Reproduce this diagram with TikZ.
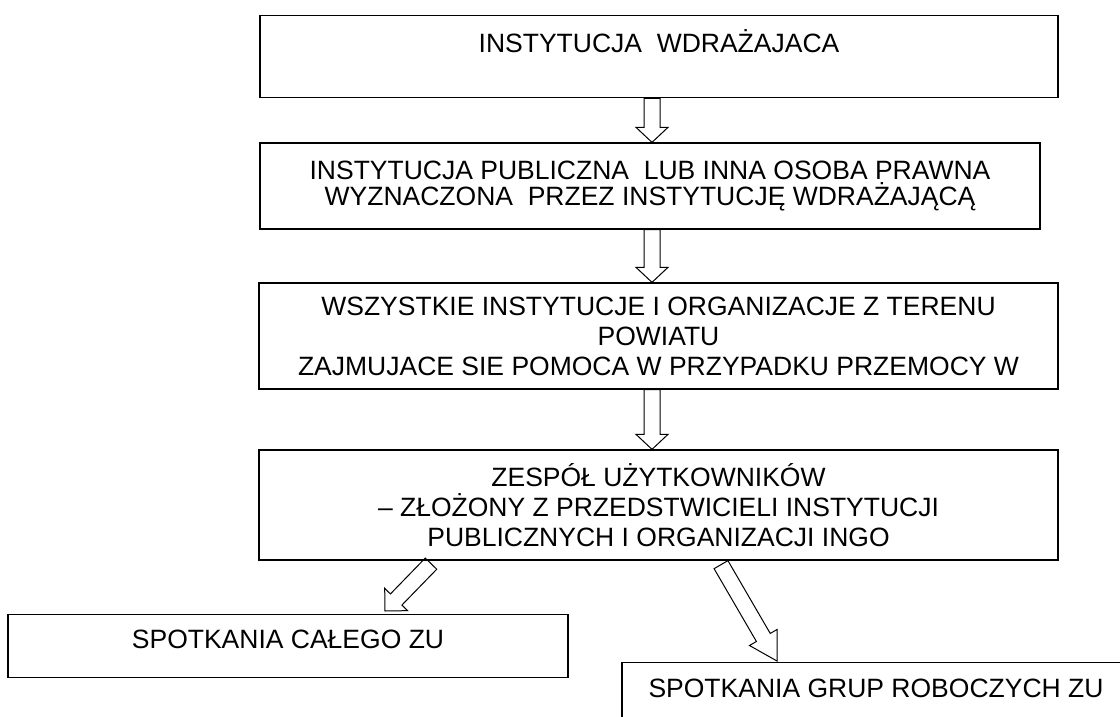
\documentclass[tikz,border=0pt]{standalone}
\usepackage{fontspec}
\setmainfont{Liberation Sans}
\usetikzlibrary{calc}
\newcommand{\fatarrow}[3][15]{%
  \draw[line width=1pt] let \p1=(#2), \p2=(#3), \n1={atan2(\y2-\y1,\x2-\x1)}, \n2={veclen(\x2-\x1,\y2-\y1)-#1} in
  ($(\p1)+(\n1+90:8pt)$) -- ($(\p1)+(\n1:{\n2*1pt})+(\n1+90:8pt)$) -- ($(\p1)+(\n1:{\n2*1pt})+(\n1+90:16pt)$) -- (\p2)
  -- ($(\p1)+(\n1:{\n2*1pt})+(\n1-90:16pt)$) -- ($(\p1)+(\n1:{\n2*1pt})+(\n1-90:8pt)$) -- ($(\p1)+(\n1-90:8pt)$) -- cycle;}
\begin{document}
\begin{tikzpicture}[x=1pt,y=-1pt,
  box/.style={draw,line width=1.3pt,inner sep=0pt,align=center,font=\fontsize{26.5}{30}\selectfont}]
\clip (0,0) rectangle (1120,717);
\fill[white] (0,0) rectangle (1120,717);
\node[box,anchor=north,minimum width=798pt,text height=37pt,text depth=45pt] (inst) at (659,15) {INSTYTUCJA\ \ WDRAŻAJACA};
\node[box,minimum width=780pt,minimum height=86pt,font=\fontsize{26.5}{26}\selectfont] (pub) at (650,186) {INSTYTUCJA PUBLICZNA\ \ LUB INNA OSOBA PRAWNA\\WYZNACZONA\ \ PRZEZ INSTYTUCJĘ WDRAŻAJĄCĄ};
\node[box,minimum width=799pt,minimum height=106pt] (all) at (658.5,336) {WSZYSTKIE INSTYTUCJE I ORGANIZACJE Z TERENU\\POWIATU\\ZAJMUJACE SIE POMOCA W PRZYPADKU PRZEMOCY W};
\node[box,minimum width=799pt,minimum height=110pt] (zu) at (658.5,505) {ZESPÓŁ UŻYTKOWNIKÓW\\– ZŁOŻONY Z PRZEDSTWICIELI INSTYTUCJI\\PUBLICZNYCH I ORGANIZACJI INGO};
\node[box,anchor=north,minimum width=560pt,text height=34pt,text depth=29pt] (caly) at (288,614) {SPOTKANIA CAŁEGO ZU};
\node[box,anchor=north,minimum width=508pt,text height=35pt,text depth=30pt] (grupy) at (876,662) {SPOTKANIA GRUP ROBOCZYCH ZU};
\coordinate (axis) at (652,0);
\fatarrow{inst.south -| axis}{pub.north -| axis}
\fatarrow{pub.south -| axis}{all.north -| axis}
\fatarrow{all.south -| axis}{zu.north -| axis}
\fatarrow[16]{$(zu.south)+(-227.5,3)$}{$(caly.north)+(97,-3)$}
\fatarrow[27]{$(zu.south)+(62.5,4)$}{$(grupy.north)+(-99,-1)$}
\end{tikzpicture}
\end{document}
